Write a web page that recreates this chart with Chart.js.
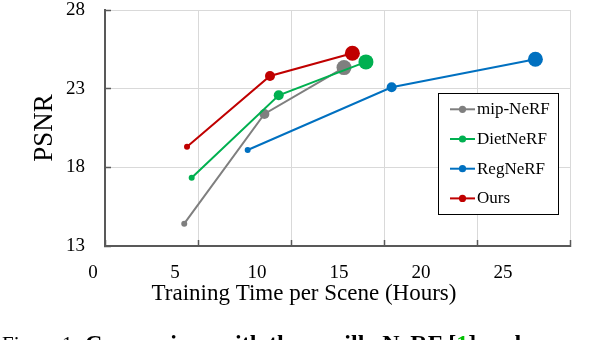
<!DOCTYPE html>
<html><head><meta charset="utf-8">
<script src="https://cdn.jsdelivr.net/npm/chart.js@4"></script>
<style>html,body{margin:0;padding:0;background:#fff;} canvas{display:block;}</style>
</head><body>
<canvas id="c" width="590" height="340"></canvas>
<script>
// ---- data ----
const seriesNames = ['mip-NeRF', 'DietNeRF', 'RegNeRF', 'Ours'];
const mipNerfHours = [4.26, 8.57, 12.85];
const mipNerfPsnr  = [14.42, 21.39, 24.34];
const dietNerfHours = [4.66, 9.34, 14.03];
const dietNerfPsnr  = [17.34, 22.58, 24.70];
const regNerfHours = [7.67, 15.41, 23.14];
const regNerfPsnr  = [19.10, 23.09, 24.87];
const oursHours = [4.41, 8.87, 13.30];
const oursPsnr  = [19.31, 23.81, 25.25];
const xTickLabels = ['0', '5', '10', '15', '20', '25'];
const yTickLabels = ['13', '18', '23', '28'];
const xAxisTitle = 'Training Time per Scene (Hours)';
const yAxisTitle = 'PSNR';
const captionRegular = 'Figure 1. ';
const captionBoldA = 'Comparison with the vanilla NeRF [';
const captionRef = '1';
const captionBoldB = '] and';

// ---- styles ----
const SERIF = '"Liberation Serif", "Times New Roman", serif';
const colors = ['#7f7f7f', '#00b050', '#0070c0', '#c00000'];
const pointSizes = [3, 5, 7.5];
const axisColor = '#595959';
const gridColor = '#d9d9d9';

function pairs(xs, ys) { return xs.map((x, i) => ({x: x, y: ys[i]})); }
const seriesData = [
  pairs(mipNerfHours, mipNerfPsnr),
  pairs(dietNerfHours, dietNerfPsnr),
  pairs(regNerfHours, regNerfPsnr),
  pairs(oursHours, oursPsnr)
];

const datasets = seriesNames.map((name, i) => ({
  label: name,
  data: seriesData[i],
  xAxisID: 'x',
  yAxisID: 'y',
  borderColor: colors[i],
  backgroundColor: colors[i],
  borderWidth: 2,
  pointRadius: pointSizes,
  pointHoverRadius: pointSizes,
  pointBorderWidth: 0,
  tension: 0,
  fill: false,
  order: seriesNames.length - i
}));

const overlayPlugin = {
  id: 'overlay',
  afterDraw(chart) {
    const ctx = chart.ctx;
    ctx.save();
    // x axis title
    ctx.fillStyle = '#000';
    ctx.font = '23px ' + SERIF;
    ctx.textAlign = 'center';
    ctx.textBaseline = 'alphabetic';
    ctx.fillText(xAxisTitle, 304, 300);

    // legend
    const bx = 438, by = 93, bw = 120, bh = 121;
    ctx.fillStyle = '#fff';
    ctx.fillRect(bx, by, bw, bh);
    ctx.strokeStyle = '#000';
    ctx.lineWidth = 1;
    ctx.strokeRect(bx + 0.5, by + 0.5, bw, bh);
    ctx.font = '17px ' + SERIF;
    ctx.textAlign = 'left';
    chart.data.datasets.forEach((ds, i) => {
      const y = 109.3 + i * 29.7;
      ctx.strokeStyle = ds.borderColor;
      ctx.lineWidth = 2;
      ctx.beginPath();
      ctx.moveTo(450, y);
      ctx.lineTo(475, y);
      ctx.stroke();
      ctx.fillStyle = ds.borderColor;
      ctx.beginPath();
      ctx.arc(462.5, y, 3.6, 0, Math.PI * 2);
      ctx.fill();
      ctx.fillStyle = '#000';
      ctx.fillText(ds.label, 477, y + 5);
    });

    // caption (clipped at the bottom of the picture)
    const cy = 351;
    ctx.fillStyle = '#000';
    ctx.font = '21px ' + SERIF;
    ctx.fillText(captionRegular, 2, cy);
    let cx = 85;
    ctx.font = 'bold 24px ' + SERIF;
    ctx.fillText(captionBoldA, cx, cy);
    cx += ctx.measureText(captionBoldA).width;
    ctx.fillStyle = '#00c000';
    ctx.fillText(captionRef, cx, cy);
    cx += ctx.measureText(captionRef).width;
    ctx.fillStyle = '#000';
    ctx.fillText(captionBoldB, cx, cy);
    ctx.restore();
  }
};

new Chart(document.getElementById('c'), {
  type: 'line',
  data: { datasets: datasets },
  plugins: [overlayPlugin],
  options: {
    responsive: false,
    animation: false,
    events: [],
    layout: { padding: { top: 10, right: 20, bottom: 0, left: 0 } },
    plugins: { legend: { display: false }, tooltip: { enabled: false } },
    scales: {
      x: {
        type: 'linear', position: 'bottom', weight: 0,
        min: 0, max: 25,
        afterBuildTicks: s => { s.ticks = xTickLabels.map(t => ({ value: Number(t) })); },
        ticks: { display: false },
        grid: { color: gridColor, lineWidth: 1, tickColor: axisColor, tickLength: -6, tickWidth: 1.5 },
        border: { color: axisColor, width: 2 },
        afterFit: s => { s.height = 1; s.paddingLeft = 0; s.paddingRight = 0; }
      },
      xl: {
        type: 'linear', position: 'bottom', weight: 1, bounds: 'data',
        min: (105 - 93) / 16.4, max: (570 - 93) / 16.4,
        afterBuildTicks: s => { s.ticks = xTickLabels.map(t => ({ value: Number(t) })); },
        ticks: {
          autoSkip: false, maxRotation: 0, padding: 15, color: '#000',
          font: { family: SERIF, size: 19 },
          callback: (v, i) => xTickLabels[i]
        },
        grid: { display: false, drawTicks: false },
        border: { display: false },
        afterFit: s => { s.height = 93; s.paddingLeft = 0; s.paddingRight = 0; }
      },
      y: {
        type: 'linear', position: 'left',
        min: 13, max: 28,
        afterBuildTicks: s => { s.ticks = yTickLabels.map(t => ({ value: Number(t) })); },
        ticks: {
          padding: 26, color: '#000',
          font: { family: SERIF, size: 19, lineHeight: 1 },
          callback: (v, i) => yTickLabels[i]
        },
        grid: { color: gridColor, lineWidth: 1, tickColor: axisColor, tickLength: -6, tickWidth: 1.5 },
        border: { color: axisColor, width: 2 },
        title: {
          display: true, text: yAxisTitle, color: '#000',
          font: { family: SERIF, size: 27, lineHeight: 1 },
          padding: { top: 31, bottom: 0 }
        },
        afterFit: s => { s.width = 105; s.paddingTop = 0; s.paddingBottom = 0; }
      }
    }
  }
});
</script>
</body></html>
